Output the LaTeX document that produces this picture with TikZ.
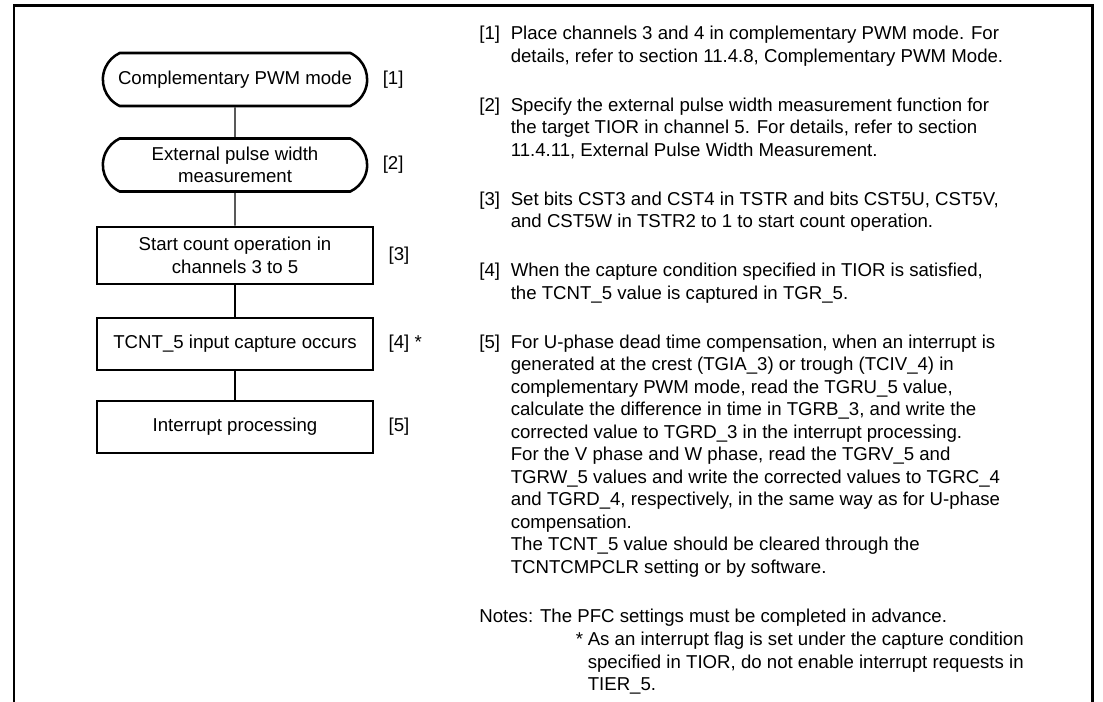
\documentclass[tikz,border=0pt]{standalone}
\usepackage{fontspec}
\setmainfont{Liberation Sans}
\usetikzlibrary{positioning,shapes.misc}

\begin{document}
\begin{tikzpicture}[font=\fontsize{10.6}{12.8}\selectfont,
  term/.style={rounded rectangle, rounded rectangle arc length=130, draw,
    line width=1.45pt, minimum width=5.52cm, minimum height=1.06cm, align=center},
  proc/.style={rectangle, draw, line width=1.45pt, minimum width=5.52cm,
    minimum height=1.04cm, align=center},
  conn/.style={line width=0.75pt},
  tag/.style={inner sep=0pt},
  note/.style={inner sep=0pt, align=left, anchor=north west}]
\useasboundingbox (0,0) rectangle (22.06,-14.04);
% ================= frame =================
\draw[line width=1.7pt] (0.28,-14.04) -- (0.28,-0.12) -- (21.84,-0.12)
  -- (21.84,-14.04);
% ================= flow chart =================
\node[term] (t1) at (4.70,-1.59) {Complementary PWM mode};
\node[term] (t2) at (4.70,-3.30) {External pulse width\\measurement};
\node[proc, minimum height=1.14cm] (s3) at (4.70,-5.11)
  {Start count operation in\\channels 3 to 5};
\node[proc] (s4) at (4.70,-6.88) {TCNT\_5 input capture occurs};
\node[proc] (s5) at (4.70,-8.54) {Interrupt processing};
\draw[conn] (t1) -- (t2);
\draw[conn] (t2) -- (s3);
\draw[conn] (s3) -- (s4);
\draw[conn] (s4) -- (s5);
% step tags
\node[tag, right=2.8mm of t1] (k1) {[1]};
\node[tag, right=2.8mm of t2] (k2) {[2]};
\node[tag, right=2.8mm of s3] (k3) {[3]};
\node[tag, right=2.8mm of s4] (k4) {[4] *};
\node[tag, right=2.8mm of s5] (k5) {[5]};
% ================= descriptions =================
\node[tag, anchor=base west] (n1) at (9.58,-0.80) {[1]};
\node[note] (d1) at ([xshift=2mm]n1.north east)
  {Place channels 3 and 4 in complementary PWM mode. For\\
   details, refer to section 11.4.8, Complementary PWM Mode.};
\node[tag, anchor=base west] (n2) at (9.58,-2.23) {[2]};
\node[note] (d2) at ([xshift=2mm]n2.north east)
  {Specify the external pulse width measurement function for\\
   the target TIOR in channel 5. For details, refer to section\\
   11.4.11, External Pulse Width Measurement.};
\node[tag, anchor=base west] (n3) at (9.58,-4.11) {[3]};
\node[note] (d3) at ([xshift=2mm]n3.north east)
  {Set bits CST3 and CST4 in TSTR and bits CST5U, CST5V,\\
   and CST5W in TSTR2 to 1 to start count operation.};
\node[tag, anchor=base west] (n4) at (9.58,-5.54) {[4]};
\node[note] (d4) at ([xshift=2mm]n4.north east)
  {When the capture condition specified in TIOR is satisfied,\\
   the TCNT\_5 value is captured in TGR\_5.};
\node[tag, anchor=base west] (n5) at (9.58,-6.97) {[5]};
\node[note] (d5) at ([xshift=2mm]n5.north east)
  {For U-phase dead time compensation, when an interrupt is\\
   generated at the crest (TGIA\_3) or trough (TCIV\_4) in\\
   complementary PWM mode, read the TGRU\_5 value,\\
   calculate the difference in time in TGRB\_3, and write the\\
   corrected value to TGRD\_3 in the interrupt processing.\\
   For the V phase and W phase, read the TGRV\_5 and\\
   TGRW\_5 values and write the corrected values to TGRC\_4\\
   and TGRD\_4, respectively, in the same way as for U-phase\\
   compensation.\\
   The TCNT\_5 value should be cleared through the\\
   TCNTCMPCLR setting or by software.};
% notes
\node[tag, anchor=base west] (nn) at (9.58,-12.45)
  {Notes: The PFC settings must be completed in advance.};
\node[tag, anchor=base west] (ns) at (11.51,-12.90) {*};
\node[note] (dn) at ([xshift=0.8mm]ns.north east)
  {As an interrupt flag is set under the capture condition\\
   specified in TIOR, do not enable interrupt requests in\\
   TIER\_5.};
\end{tikzpicture}
\end{document}
